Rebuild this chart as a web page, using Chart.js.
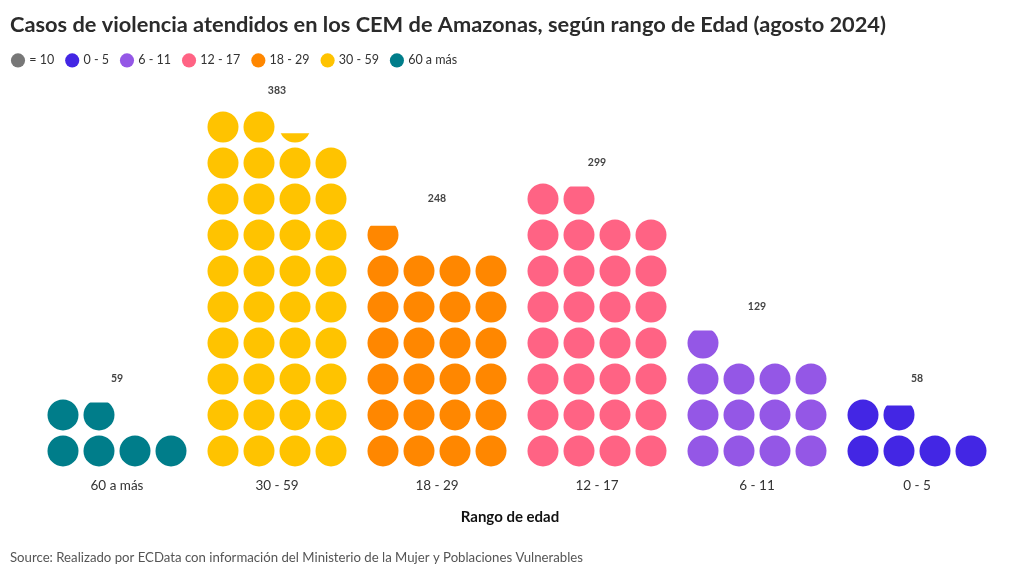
<!DOCTYPE html>
<html><head><meta charset="utf-8">
<script src="https://cdn.jsdelivr.net/npm/chart.js@4.4.1/dist/chart.umd.min.js"></script>
<style>html,body{margin:0;padding:0;background:#fff;}#wrap{width:1020px;height:576px;}</style>
</head><body><div id="wrap"><canvas id="c" width="1020" height="576"></canvas></div>
<script>
// ---- data ----
const categories = ["60 a más", "30 - 59", "18 - 29", "12 - 17", "6 - 11", "0 - 5"];
const values = [59, 383, 248, 299, 129, 58];
const colors = ["#007d8a", "#ffc300", "#ff8700", "#ff6384", "#9457e6", "#4326e4"];
const unitValue = 10;
const perRow = 4;
const legendLabels = ["= 10", "0 - 5", "6 - 11", "12 - 17", "18 - 29", "30 - 59", "60 a más"];
const legendColors = ["#777777", "#4326e4", "#9457e6", "#ff6384", "#ff8700", "#ffc300", "#007d8a"];
const titleText = "Casos de violencia atendidos en los CEM de Amazonas, según rango de Edad (agosto 2024)";
const sourceText = "Source: Realizado por ECData con información del Ministerio de la Mujer y Poblaciones Vulnerables";
const axisTitle = "Rango de edad";

// ---- layout settings ----
const FONT = "Lato, 'Source Sans Pro', sans-serif";
const R = 15.5;
const COL_STEP = 0.225;
const X_MIN = -0.66875, X_MAX = 5.58125;

const datasets = [];
let maxRows = 0;
categories.forEach((cat, i) => {
  const units = values[i] / unitValue;
  const full = Math.floor(units + 1e-9);
  const frac = units - full;
  const pos = k => ({ x: i + ((k % perRow) - (perRow - 1) / 2) * COL_STEP, y: Math.floor(k / perRow) });
  const pts = [];
  for (let k = 0; k < full; k++) pts.push(pos(k));
  const common = { backgroundColor: colors[i], borderColor: colors[i], borderWidth: 0,
    pointRadius: R, pointHoverRadius: R, pointStyle: 'circle', clip: false };
  datasets.push(Object.assign({ label: cat, data: pts }, common));
  if (frac > 0.001) {
    datasets.push(Object.assign({ label: cat + " (parcial)", data: [pos(full)], partialFraction: frac }, common));
  }
  const rows = Math.ceil(Math.ceil(units - 1e-9) / perRow);
  maxRows = Math.max(maxRows, rows);
});

const partialClip = {
  id: 'partialClip',
  beforeDatasetDraw(chart, args) {
    const ds = chart.data.datasets[args.index];
    if (!ds.partialFraction) return;
    const pt = args.meta.data[0];
    const y0 = pt.y + R - ds.partialFraction * 2 * R;
    const ctx = chart.ctx;
    ctx.save();
    ctx.beginPath();
    ctx.rect(0, y0, chart.width, chart.height);
    ctx.clip();
  },
  afterDatasetDraw(chart, args) {
    const ds = chart.data.datasets[args.index];
    if (ds.partialFraction) chart.ctx.restore();
  }
};

const valueLabels = {
  id: 'valueLabels',
  afterDatasetsDraw(chart) {
    const ctx = chart.ctx, xs = chart.scales.x, ys = chart.scales.y;
    ctx.save();
    ctx.font = "bold 10.5px " + FONT;
    ctx.fillStyle = "#444";
    ctx.textAlign = "center";
    ctx.textBaseline = "middle";
    categories.forEach((c, i) => {
      const units = values[i] / unitValue;
      const rows = Math.ceil(Math.ceil(units - 1e-9) / perRow);
      ctx.fillText(String(values[i]), xs.getPixelForValue(i), ys.getPixelForValue(rows));
    });
    ctx.restore();
  }
};

const legendShift = {
  id: 'legendShift',
  afterLayout(chart) {
    if (chart.legend) { chart.legend.left -= 10; chart.legend.right -= 10; }
  }
};

new Chart(document.getElementById('c'), {
  type: 'scatter',
  data: { datasets },
  options: {
    responsive: false,
    devicePixelRatio: 1,
    animation: false,
    events: [],
    layout: { autoPadding: false, padding: { left: 10, right: 10, top: 0, bottom: 0 } },
    plugins: {
      tooltip: { enabled: false },
      title: { display: true, text: titleText, align: 'start', color: '#2b2b2b',
        font: { family: FONT, size: 21.8, weight: 'bold' }, padding: { top: 12, bottom: 3 } },
      subtitle: { display: true, position: 'bottom', align: 'start', text: sourceText, color: '#555',
        font: { family: FONT, size: 13.2, weight: 'normal' }, padding: { top: 20, bottom: 10 } },
      legend: {
        display: true, position: 'top', align: 'start',
        labels: {
          usePointStyle: true, boxWidth: 10, boxHeight: 10, padding: 13, color: '#333',
          font: { family: FONT, size: 12.5 },
          generateLabels: () => legendLabels.map((t, k) => ({
            text: t, fillStyle: legendColors[k], strokeStyle: legendColors[k], lineWidth: 0,
            pointStyle: 'circle', hidden: false, fontColor: '#333'
          }))
        }
      }
    },
    scales: {
      x: {
        type: 'linear', min: X_MIN, max: X_MAX,
        grid: { display: false, drawTicks: false }, border: { display: false },
        afterBuildTicks: s => { s.ticks = categories.map((_, i) => ({ value: i })); },
        ticks: { padding: 8, autoSkip: false, maxRotation: 0, color: '#333',
          font: { family: FONT, size: 13.5 }, callback: v => categories[v] ?? '' },
        title: { display: true, text: axisTitle, color: '#111',
          font: { family: FONT, size: 15, weight: 'bold' }, padding: { top: 6, bottom: 4 } }
      },
      y: { display: false, min: -0.53, max: maxRows + 0.40 }
    }
  },
  plugins: [partialClip, valueLabels, legendShift]
});
</script></body></html>
